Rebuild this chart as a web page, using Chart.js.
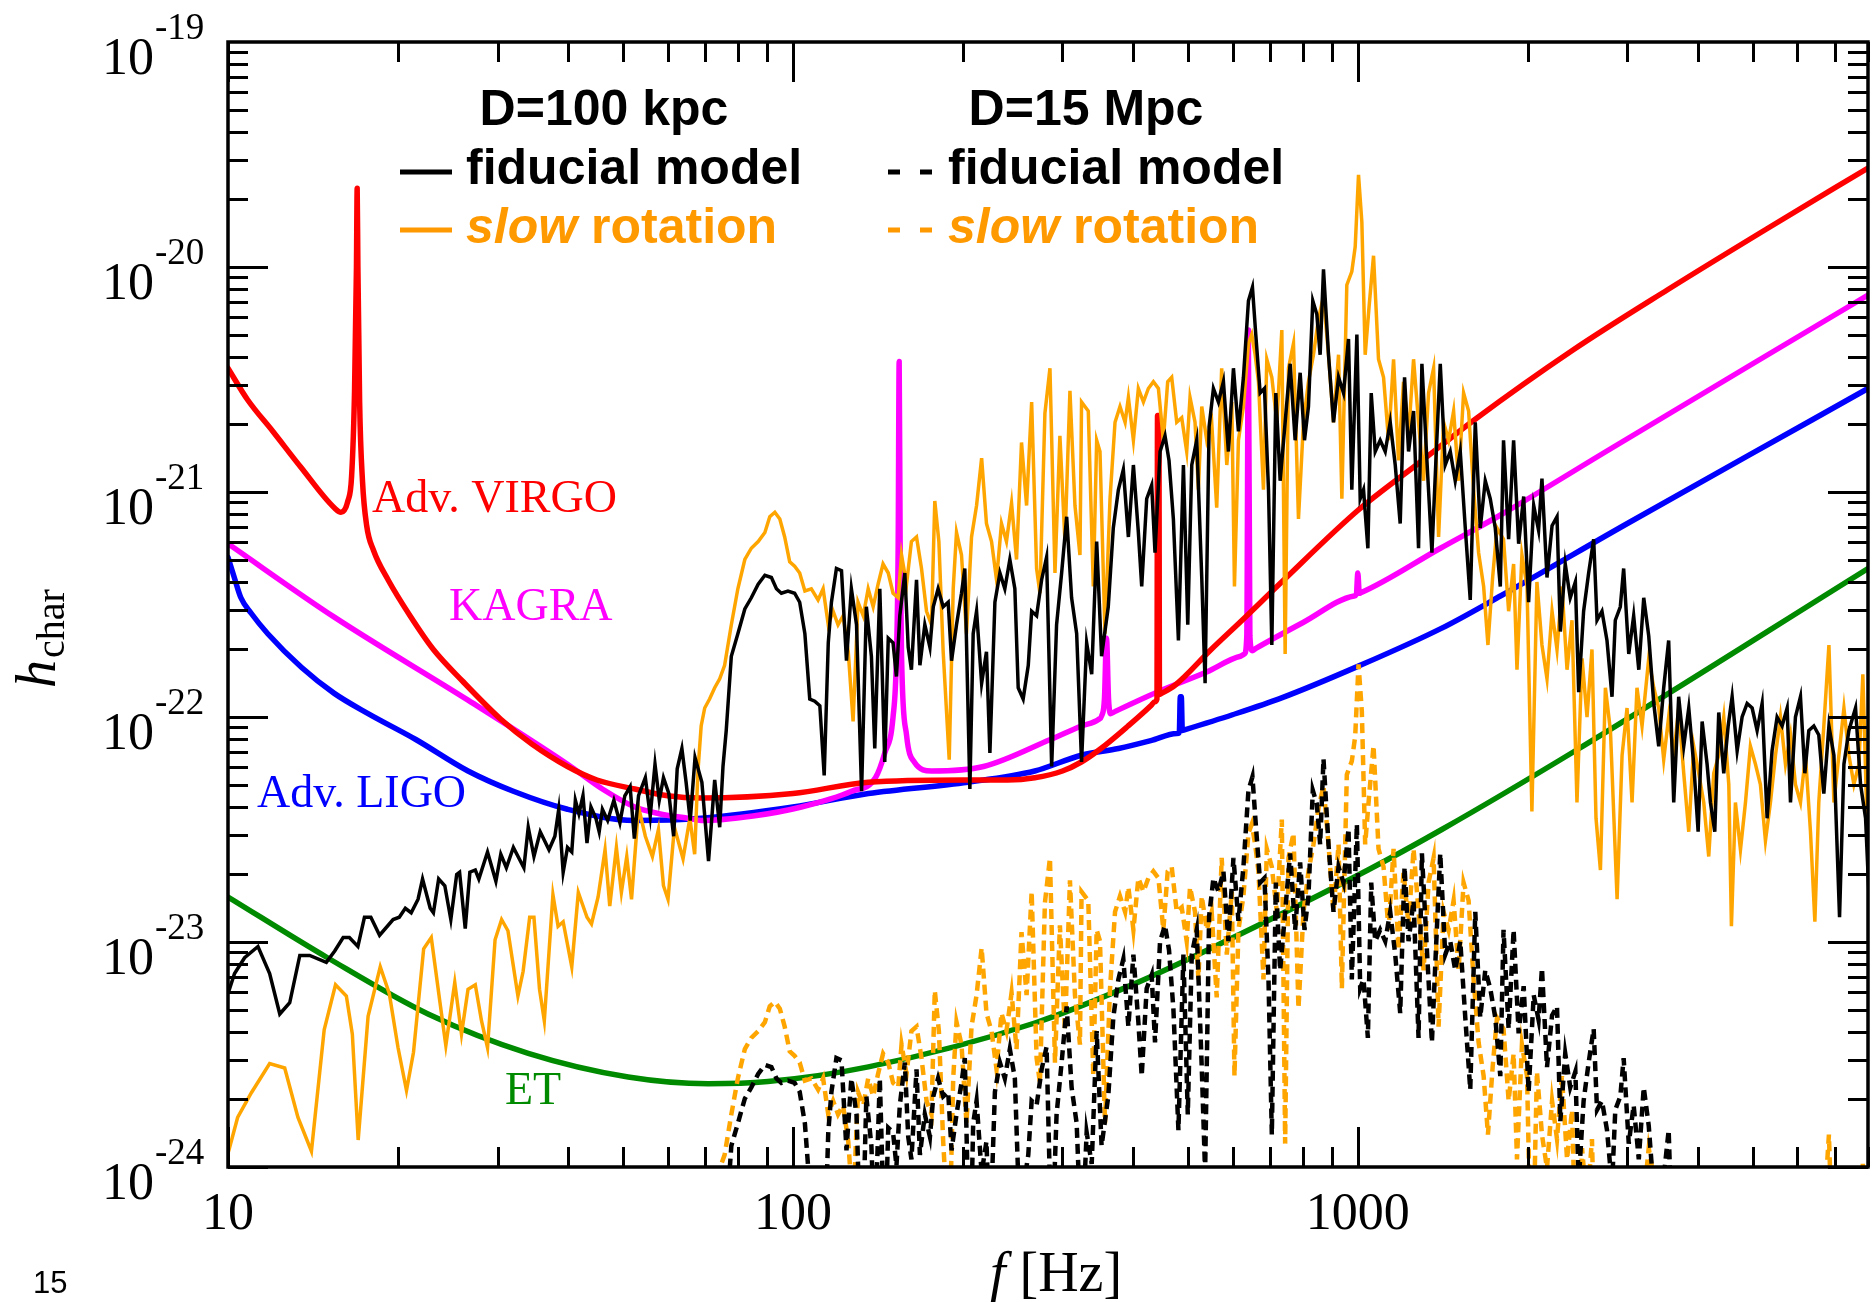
<!DOCTYPE html>
<html>
<head>
<meta charset="utf-8">
<title>h_char spectra</title>
<script src="https://cdn.jsdelivr.net/npm/chart.js@4.4.0/dist/chart.umd.min.js"></script>
<style>
    html, body { margin: 0; padding: 0; background: #fff; }
    #wrap { width: 1874px; height: 1302px; }
</style>
</head>
<body>
<div id="wrap"><canvas id="hcharChart" width="1874" height="1302"></canvas></div>
<script>
// pairs of [frequency in Hz, log10(h_char)]

// D = 100 kpc, fiducial model
const fiducial = [
    [10,-23.23],[10.27,-23.14],[10.7,-23.07],[11.3,-23.02],[11.85,-23.14],[12.35,-23.32],[12.86,-23.27],[13.4,-23.06],[13.95,-23.06],[14.93,-23.09],
    [15.45,-23.04],[15.99,-22.98],[16.4,-22.98],[16.98,-23.02],[17.44,-22.89],[17.9,-22.89],[18.55,-22.97],[19.6,-22.9],[20.1,-22.89],[20.6,-22.85],
    [21.1,-22.87],[21.7,-22.81],[22.1,-22.72],[22.8,-22.85],[23.1,-22.87],[23.6,-22.72],[24.2,-22.75],[24.8,-22.9],[25.4,-22.7],[25.7,-22.69],
    [26.3,-22.94],[26.8,-22.69],[27.4,-22.68],[27.8,-22.72],[28.8,-22.6],[29.8,-22.73],[30.4,-22.61],[31.1,-22.67],[32,-22.58],[33.4,-22.67],
    [34,-22.49],[34.8,-22.62],[35.7,-22.51],[37,-22.59],[37.9,-22.53],[38.5,-22.41],[39.2,-22.69],[39.9,-22.58],[40.6,-22.6],[41.2,-22.37],
    [41.8,-22.43],[42.5,-22.35],[43.2,-22.56],[43.9,-22.4],[44.8,-22.45],[45.4,-22.51],[46,-22.41],[47,-22.46],[48.2,-22.37],[49.4,-22.47],
    [50.4,-22.35],[51.5,-22.31],[52.4,-22.54],[53.3,-22.35],[54.8,-22.27],[55.9,-22.44],[57,-22.21],[58,-22.37],[59,-22.27],[60.3,-22.34],
    [61.5,-22.53],[62.4,-22.23],[63.6,-22.14],[64.7,-22.29],[65.8,-22.46],[67.1,-22.18],[69,-22.29],[70.9,-22.64],[72.7,-22.28],[74.2,-22.49],
    [75.2,-22.22],[76.2,-22.06],[77.8,-21.73],[79.9,-21.63],[82.2,-21.52],[84.4,-21.47],[86.8,-21.41],[89.2,-21.37],[91.6,-21.38],[93.5,-21.43],
    [95.4,-21.45],[98,-21.44],[100.7,-21.45],[102.8,-21.49],[105,-21.63],[107.1,-21.92],[109.3,-21.93],[111.6,-21.95],[113.6,-22.26],[115.5,-21.67],
    [117,-21.49],[119.4,-21.34],[121.9,-21.35],[124.4,-21.75],[126.9,-21.43],[129.6,-21.59],[132.3,-22.33],[134.9,-21.51],[137.7,-21.73],[139.6,-22.14],
    [142.5,-21.43],[145.4,-22.2],[147.5,-21.65],[150.4,-21.67],[152.5,-21.82],[154.6,-21.55],[157.8,-21.36],[160,-21.69],[162.1,-21.79],[165.5,-21.39],
    [167.8,-21.77],[171.2,-21.59],[174.8,-21.69],[177.2,-21.51],[180.7,-21.43],[184.5,-21.51],[188.3,-21.49],[190.9,-21.75],[194.8,-21.59],[198.8,-21.45],
    [201.5,-21.34],[205.7,-22.32],[208.5,-21.63],[211.4,-21.53],[215.8,-21.85],[220.1,-21.71],[223.2,-22.16],[227.8,-21.49],[232.5,-21.36],[237.2,-21.43],
    [242.1,-21.3],[247.1,-21.43],[250.5,-21.87],[255.6,-21.92],[261,-21.77],[264.6,-21.53],[270,-21.55],[275.6,-21.39],[281.2,-21.29],[287.1,-22.22],
    [292.9,-21.59],[299,-21.36],[305.2,-21.11],[311.4,-21.47],[317.9,-21.63],[324.3,-22.2],[331.1,-21.67],[338,-21.81],[344.9,-21.22],[351.9,-21.73],
    [361.6,-21.51],[369.1,-21.16],[376.8,-20.99],[384.5,-20.9],[392.5,-21.2],[400.6,-20.88],[408.8,-21.18],[414.4,-21.42],[422.9,-21.03],[431.6,-20.97],
    [437.5,-21.27],[446.6,-20.82],[455.7,-20.75],[463.2,-20.86],[471.5,-21.12],[481.3,-21.66],[491.2,-20.88],[500,-21.59],[508.2,-20.88],[518.6,-20.77],
    [529.3,-21.38],[536.6,-21.85],[545.4,-20.71],[555.1,-20.54],[566.5,-20.6],[578.2,-20.51],[590.1,-20.82],[602.3,-20.45],[614.7,-20.73],[627.3,-20.49],
    [640.3,-20.15],[650.8,-20.09],[659.7,-20.3],[671.5,-20.56],[683.5,-20.54],[694.8,-20.99],[704.3,-21.68],[715.9,-20.56],[728.6,-20.95],[743.6,-20.69],
    [758.9,-20.43],[774.5,-20.77],[790.5,-20.47],[804.6,-20.77],[817.7,-20.62],[832.3,-20.15],[846.1,-20.21],[857.6,-20.39],[869.4,-20.01],[887.3,-20.39],
    [905.6,-20.69],[924.4,-20.49],[943.3,-20.56],[962.7,-20.32],[975.8,-20.99],[996.1,-20.3],[1009.7,-21.03],[1023.5,-20.99],[1041.8,-21.25],[1056.1,-20.56],
    [1073.4,-20.82],[1095.5,-20.77],[1118.1,-20.82],[1141.1,-20.69],[1164.7,-20.88],[1188.5,-21.14],[1209.8,-20.49],[1229.7,-20.82],[1255.1,-20.64],[1280.8,-21.25],
    [1298.4,-20.43],[1325.3,-20.86],[1352.5,-21.27],[1374.7,-20.86],[1399.3,-20.43],[1428,-20.88],[1457.5,-20.82],[1487.4,-20.95],[1518.2,-20.82],[1549.6,-21.16],
    [1581.3,-21.48],[1614,-20.69],[1647,-21.16],[1681.1,-20.95],[1715.5,-21.03],[1751,-21.16],[1787.3,-21.42],[1811,-20.77],[1849,-21.21],[1887,-20.77],
    [1926,-21.23],[1966,-21.02],[2006,-21.49],[2048,-21.06],[2089,-21.17],[2118,-20.94],[2162,-21.38],[2207,-21.15],[2252,-21.11],[2283,-21.62],
    [2329,-21.32],[2377,-21.47],[2427,-21.4],[2460,-21.89],[2510,-21.53],[2562,-21.36],[2615,-21.21],[2651,-21.57],[2705,-21.53],[2761,-21.66],
    [2818,-21.91],[2856,-21.57],[2915,-21.51],[2955,-21.34],[3017,-21.72],[3078,-21.55],[3143,-21.79],[3207,-21.47],[3273,-21.64],[3341,-21.94],
    [3409,-22.13],[3479,-21.87],[3550,-21.66],[3624,-22.38],[3698,-21.91],[3775,-22.13],[3853,-21.96],[3932,-22.21],[4003,-22.51],[4069,-22.02],
    [4152,-22.21],[4209,-22.38],[4284,-22.51],[4354,-21.98],[4444,-22.25],[4524,-22.04],[4598,-21.91],[4693,-22.15],[4789,-22],[4888,-21.94],
    [4989,-21.96],[5091,-22.06],[5196,-21.94],[5303,-22.45],[5411,-22.15],[5523,-22],[5637,-22.04],[5754,-21.96],[5833,-22.38],[5952,-22],
    [6075,-21.91],[6184,-22.25],[6285,-22.06],[6415,-22.04],[6546,-22.08],[6682,-22.34],[6822,-22.04],[6962,-22.17],[7124,-22.89],[7252,-22.21],
    [7401,-22.06],[7604,-21.96],[7761,-22.3],[7921,-22.45],[8031,-22.79]
];

// D = 100 kpc, slow rotation
const slowRotation = [
    [10,-23.94],[10.4,-23.78],[11,-23.67],[11.85,-23.54],[12.6,-23.56],[13.3,-23.78],[14.05,-23.93],[14.8,-23.39],[15.5,-23.19],[16.2,-23.24],
    [16.6,-23.41],[17,-23.88],[17.7,-23.33],[18.6,-23.11],[19.3,-23.23],[20,-23.47],[20.7,-23.66],[21.3,-23.49],[22.2,-23.03],[22.9,-22.98],
    [23.7,-23.26],[24.3,-23.46],[25.2,-23.18],[25.9,-23.41],[26.6,-23.21],[27.4,-23.19],[28.1,-23.35],[28.8,-23.47],[29.7,-22.99],[30.5,-22.9],
    [31.3,-22.95],[32.6,-23.24],[33.3,-23.13],[34.2,-22.89],[34.8,-22.89],[35.6,-23.21],[36.3,-23.35],[37.6,-22.79],[38.4,-22.93],[39.2,-22.91],
    [40.6,-23.11],[41.7,-22.78],[43.2,-22.89],[44,-22.92],[45.2,-22.8],[46.5,-22.59],[47.4,-22.84],[48.7,-22.58],[49.7,-22.78],[50.8,-22.62],
    [51.8,-22.81],[53.3,-22.4],[54.8,-22.53],[56.4,-22.62],[57.8,-22.5],[59,-22.75],[60.1,-22.81],[61.7,-22.49],[63.9,-22.63],[65.7,-22.45],
    [67,-22.61],[67.9,-22.24],[68.8,-22.04],[69.8,-21.96],[71.2,-21.92],[72.7,-21.87],[74.2,-21.83],[75.7,-21.77],[77.8,-21.59],[79.9,-21.43],
    [82.2,-21.3],[84.4,-21.25],[86.8,-21.22],[89.2,-21.18],[91,-21.11],[92.9,-21.09],[94.8,-21.12],[96.7,-21.2],[98.7,-21.31],[100.7,-21.33],
    [102.8,-21.36],[105,-21.44],[107.8,-21.43],[110.8,-21.48],[113.1,-21.43],[115.5,-21.59],[117.8,-21.53],[120.2,-21.59],[122.7,-21.55],[125.3,-21.71],
    [127.8,-22.02],[130.4,-21.49],[133.2,-21.55],[135.9,-21.43],[138.7,-21.51],[141.5,-21.41],[144.4,-21.32],[147.5,-21.36],[150.4,-21.45],[153.6,-21.47],
    [155.7,-21.28],[158.9,-21.41],[162.1,-21.22],[165.5,-21.2],[168.9,-21.34],[172.4,-21.53],[175.9,-21.59],[178.3,-21.04],[181.3,-21.22],[184.5,-21.71],
    [189.1,-22.19],[192.2,-21.43],[194.8,-21.18],[198.8,-21.28],[202.9,-21.63],[207.1,-21.2],[211.4,-21.06],[215.8,-20.85],[220.1,-21.14],[224.7,-21.22],
    [229.3,-21.39],[234,-21.14],[238.8,-21.22],[243.8,-21.05],[248.8,-21.3],[253.9,-20.78],[259.2,-21.06],[264.6,-20.6],[270,-21.34],[273.7,-21.45],
    [279.3,-20.65],[285.1,-20.45],[291,-21.36],[296.9,-20.75],[303.1,-21.22],[309.3,-20.55],[315.7,-21.06],[322.2,-21.28],[324.3,-20.6],[333.3,-20.64],
    [340.2,-21.42],[344.9,-20.77],[349.6,-20.82],[356.8,-21.63],[364.2,-21.03],[371.7,-20.69],[379.3,-20.62],[387.3,-20.69],[392.5,-20.58],[400.6,-20.77],
    [408.8,-20.54],[417.3,-20.6],[425.8,-20.54],[434.6,-20.51],[443.6,-20.54],[452.6,-20.77],[460.7,-20.51],[468.3,-20.49],[478,-20.69],[487.8,-20.67],
    [497.8,-20.82],[504.6,-20.58],[515,-20.69],[522.1,-20.99],[529.3,-20.62],[540.2,-20.77],[551.2,-20.69],[562.6,-21.07],[574.1,-20.45],[586.2,-20.88],
    [598.3,-20.6],[604.8,-21.42],[614.7,-20.77],[627.3,-20.62],[640.3,-20.34],[649,-20.3],[658,-20.39],[667,-20.51],[680.7,-20.99],[690.1,-20.41],
    [704.3,-20.49],[718.8,-20.69],[733.6,-20.28],[743.6,-21.72],[753.8,-20.45],[769.3,-20.34],[785.1,-21.12],[801.3,-20.69],[817.7,-20.51],[834.6,-20.39],
    [851.8,-20.23],[869.4,-20.13],[887.3,-20.39],[905.6,-20.69],[924.4,-20.39],[937,-21.03],[956.1,-20.08],[975.8,-20.02],[989.3,-19.91],[1002.8,-19.59],
    [1016.5,-19.8],[1030.4,-20.39],[1047.4,-20.17],[1066.1,-19.95],[1088,-20.41],[1110.5,-20.49],[1133.4,-20.77],[1156.8,-20.41],[1180.3,-20.86],[1204.7,-20.51],
    [1229.7,-20.75],[1255,-20.41],[1280.8,-20.69],[1307.4,-20.95],[1334.2,-20.56],[1361.8,-20.45],[1389.8,-21.2],[1418.5,-20.69],[1447.9,-20.77],[1477.5,-20.64],
    [1508,-20.95],[1538.9,-20.56],[1570.7,-20.64],[1602.9,-20.99],[1636,-21.27],[1670,-21.42],[1699.5,-21.68],[1732.3,-21.38],[1763.3,-21.16],[1811,-21.21],
    [1849,-21.53],[1887,-21.32],[1913,-21.79],[1952,-21.28],[1993,-21.42],[2033,-22.42],[2075,-21.4],[2118,-21.68],[2162,-21.83],[2207,-21.53],
    [2252,-21.7],[2298,-21.42],[2346,-21.79],[2394,-21.57],[2443,-22.38],[2494,-21.74],[2545,-22],[2597,-21.7],[2640,-22.45],[2688,-22.68],
    [2743,-21.87],[2800,-22.06],[2877,-22.81],[2936,-22.17],[2996,-21.96],[3058,-22.38],[3120,-21.87],[3185,-22.04],[3273,-21.74],[3341,-21.87],
    [3409,-21.96],[3479,-22.19],[3550,-22],[3624,-22.17],[3698,-21.96],[3775,-22.25],[3853,-22.51],[3932,-22.13],[4013,-22.25],[4096,-22.38],
    [4180,-22.62],[4266,-22.25],[4354,-22.17],[4444,-22],[4536,-22.3],[4585,-22.93],[4660,-22.38],[4757,-22.59],[4855,-22.38],[4954,-22.13],
    [5057,-22.21],[5160,-22.3],[5267,-22.55],[5375,-22.38],[5487,-22.17],[5599,-22],[5715,-22.21],[5833,-22.08],[5952,-22.3],[6075,-22.38],
    [6200,-22.17],[6328,-22.51],[6442,-22.91],[6546,-22.38],[6682,-22.04],[6822,-21.68],[6962,-22.38],[7105,-22.17],[7252,-21.96],[7401,-22.17],
    [7553,-22.3],[7709,-22.21],[7834,-21.81],[7975,-22.51]
];

// the D=15 Mpc curves are the same spectra seen from further away: h scales as 1/D
const distanceScale = 100 / 15000;

// detector sensitivity curves
const advVirgo = [
    [10,-20.45],[10.83,-20.59],[12,-20.73],[13.46,-20.89],[15.42,-21.07],[15.85,-21.09],[16.3,-21.04],[16.55,-20.93],[16.75,-20.55],[16.88,-20],
    [16.93,-19.65],[16.98,-20],[17.1,-20.6],[17.3,-20.95],[17.6,-21.15],[18.1,-21.26],[19.2,-21.39],[21,-21.55],[23.1,-21.7],[26,-21.84],
    [30.4,-22.01],[34.5,-22.12],[39.9,-22.22],[45,-22.28],[52.5,-22.32],[60,-22.35],[68.9,-22.36],[100,-22.34],[136,-22.29],[200,-22.28],
    [240,-22.28],[268,-22.27],[300,-22.24],[324,-22.2],[351,-22.14],[392,-22.04],[430,-21.95],[437,-21.932],[441,-21.92],[442,-20.66],
    [444.5,-20.66],[445.5,-21.9],[447,-21.898],[474,-21.86],[550,-21.7],[630,-21.56],[733,-21.4],[1002,-21.08],[1300,-20.86],[1607,-20.68],
    [2400,-20.37],[3540,-20.1],[5300,-19.83],[8000,-19.56]
];
const kagra = [
    [10,-21.23],[15.4,-21.555],[26.6,-21.925],[39.9,-22.21],[46,-22.32],[52.5,-22.4],[58,-22.43],[65.2,-22.45],[68.8,-22.46],[85,-22.44],
    [103.5,-22.4],[127,-22.33],[140,-22.27],[145.4,-22.16],[150.4,-22],[152.5,-21.73],[153.6,-21.22],[154.2,-20.42],[154.8,-21.22],[155.7,-21.73],
    [158.9,-22.08],[164,-22.2],[176,-22.24],[217.5,-22.22],[285.6,-22.1],[324,-22.04],[348,-22.01],[352,-21.995],[356,-21.92],[359,-21.65],
    [362,-21.92],[365,-21.985],[372,-21.975],[450,-21.88],[540,-21.8],[620,-21.73],[630,-21.72],[636,-21.64],[640,-20.28],[644,-21.64],
    [650,-21.705],[660,-21.695],[800,-21.58],[985,-21.462],[994,-21.455],[1000,-21.36],[1006,-21.45],[1012,-21.448],[1400,-21.25],[1795,-21.1],
    [2793,-20.81],[5000,-20.43],[8000,-20.125]
];
const advLigo = [
    [10,-21.29],[10.26,-21.38],[10.54,-21.47],[11,-21.54],[11.76,-21.63],[13.5,-21.78],[15.42,-21.895],[17.7,-21.985],[21.5,-22.1],[26.6,-22.24],
    [32,-22.33],[39.9,-22.41],[52.5,-22.46],[68.8,-22.45],[100,-22.4],[136,-22.34],[204,-22.29],[268,-22.24],[324,-22.17],[377,-22.14],
    [430,-22.105],[478,-22.073],[483,-22.07],[485,-21.91],[487,-21.91],[489,-22.06],[492,-22.058],[600,-21.99],[733,-21.915],[1000,-21.775],
    [1408,-21.605],[1795,-21.46],[3000,-21.14],[6364,-20.68],[8000,-20.54]
];
const einsteinTelescope = [
    [10,-22.8],[15,-23.07],[22.6,-23.32],[34,-23.495],[51.1,-23.6],[70.8,-23.63],[90.3,-23.62],[136,-23.555],[268,-23.36],[403,-23.185],
    [573,-23.006],[1042,-22.68],[1408,-22.5],[2427,-22.15],[8000,-21.34]
];

// axes
const xTickValues = [10, 100, 1000];
const xTickLabels = ['10', '100', '1000'];
const yTickValues = [1e-19, 1e-20, 1e-21, 1e-22, 1e-23, 1e-24];
const yTickExponents = ['-19', '-20', '-21', '-22', '-23', '-24'];

const SERIF = '"Liberation Serif", "Times New Roman", serif';
const SANS = '"Liberation Sans", Arial, Helvetica, sans-serif';

function toPoints(pairs, factor) {
    const k = factor || 1;
    return pairs.map(p => ({ x: p[0], y: Math.pow(10, p[1]) * k }));
}

function lineSet(pairs, color, width, order, extra) {
    return Object.assign({
        data: toPoints(pairs),
        borderColor: color,
        borderWidth: width,
        pointRadius: 0,
        tension: 0,
        fill: false,
        clip: 0,
        order: order
    }, extra || {});
}

// ticks, frame and all the text are painted by hand, IDL style
const idlAxes = {
    id: 'idlAxes',
    afterDatasetsDraw(chart) {
        const { ctx, chartArea: a } = chart;
        const x = chart.scales.x;
        const y = chart.scales.y;

        ctx.save();
        ctx.strokeStyle = '#000';
        ctx.lineWidth = 3;
        ctx.beginPath();

        // x ticks, bottom and top
        for (let d = 10; d <= 1000; d *= 10) {
            for (let k = 1; k <= 9; k++) {
                const v = k * d;
                if (v > 8000) break;
                const px = Math.round(x.getPixelForValue(v)) + 0.5;
                const len = k === 1 ? 40 : 20;
                ctx.moveTo(px, a.bottom); ctx.lineTo(px, a.bottom - len);
                ctx.moveTo(px, a.top); ctx.lineTo(px, a.top + len);
            }
        }
        // y ticks, left and right
        for (let e = -24; e <= -20; e++) {
            for (let k = 1; k <= 9; k++) {
                const v = k * Math.pow(10, e);
                const py = Math.round(y.getPixelForValue(v)) + 0.5;
                const len = k === 1 ? 40 : 20;
                ctx.moveTo(a.left, py); ctx.lineTo(a.left + len, py);
                ctx.moveTo(a.right, py); ctx.lineTo(a.right - len, py);
            }
        }
        ctx.stroke();

        ctx.lineWidth = 3.5;
        ctx.strokeRect(a.left, a.top, a.right - a.left, a.bottom - a.top);
        ctx.restore();
    },
    afterDraw(chart) {
        const { ctx } = chart;
        const x = chart.scales.x;
        const y = chart.scales.y;
        ctx.save();
        ctx.fillStyle = '#000';
        ctx.textBaseline = 'alphabetic';

        // x tick labels
        ctx.font = '52px ' + SERIF;
        ctx.textAlign = 'center';
        xTickValues.forEach((v, i) => {
            ctx.fillText(xTickLabels[i], x.getPixelForValue(v), 1229);
        });

        // y tick labels 10^-n
        yTickValues.forEach((v, i) => {
            const py = y.getPixelForValue(v);
            ctx.font = '52px ' + SERIF;
            ctx.textAlign = 'right';
            ctx.fillText('10', 154, py + 32);
            ctx.font = '37px ' + SERIF;
            ctx.textAlign = 'left';
            ctx.fillText(yTickExponents[i], 155, py - 3);
        });

        // x title
        ctx.textAlign = 'left';
        ctx.font = 'italic 56px ' + SERIF;
        const fW = ctx.measureText('f').width;
        ctx.font = '56px ' + SERIF;
        const restW = ctx.measureText(' [Hz]').width;
        const x0 = 1056 - (fW + restW) / 2;
        ctx.font = 'italic 56px ' + SERIF;
        ctx.fillText('f', x0, 1291);
        ctx.font = '56px ' + SERIF;
        ctx.fillText(' [Hz]', x0 + fW, 1291);

        // y title, rotated
        ctx.save();
        ctx.translate(55, 688);
        ctx.rotate(-Math.PI / 2);
        ctx.font = 'italic 56px ' + SERIF;
        ctx.fillText('h', 0, 0);
        const hW = ctx.measureText('h').width;
        ctx.font = '40px ' + SERIF;
        ctx.fillText('char', hW + 2, 9);
        ctx.restore();

        // detector names
        ctx.font = '46px ' + SERIF;
        ctx.fillStyle = '#ff0000'; ctx.fillText('Adv. VIRGO', 372, 512);
        ctx.fillStyle = '#ff00ff'; ctx.fillText('KAGRA', 449, 620);
        ctx.fillStyle = '#0000ff'; ctx.fillText('Adv. LIGO', 257, 807);
        ctx.fillStyle = '#008a00'; ctx.fillText('ET', 505, 1104);

        // legend block
        ctx.fillStyle = '#000';
        ctx.font = 'bold 50px ' + SANS;
        ctx.textAlign = 'center';
        ctx.fillText('D=100 kpc', 604, 125);
        ctx.fillText('D=15 Mpc', 1086, 125);
        ctx.textAlign = 'left';
        ctx.fillText('fiducial model', 466, 184);
        ctx.fillText('fiducial model', 948, 184);

        [466, 948].forEach(lx => {
            ctx.fillStyle = '#ff9900';
            ctx.font = 'italic bold 50px ' + SANS;
            ctx.fillText('slow', lx, 243);
            const sW = ctx.measureText('slow').width;
            ctx.font = 'bold 50px ' + SANS;
            ctx.fillText(' rotation', lx + sW, 243);
        });

        ctx.lineWidth = 5;
        ctx.strokeStyle = '#000';
        ctx.beginPath();
        ctx.moveTo(400, 172); ctx.lineTo(452, 172);
        ctx.moveTo(888, 172); ctx.lineTo(900, 172);
        ctx.moveTo(920, 172); ctx.lineTo(932, 172);
        ctx.stroke();
        ctx.strokeStyle = '#ff9900';
        ctx.beginPath();
        ctx.moveTo(400, 230); ctx.lineTo(452, 230);
        ctx.moveTo(888, 230); ctx.lineTo(900, 230);
        ctx.moveTo(920, 230); ctx.lineTo(932, 230);
        ctx.stroke();

        // page number
        ctx.fillStyle = '#000';
        ctx.font = '31px ' + SANS;
        ctx.fillText('15', 33, 1293);
        ctx.restore();
    }
};

// smooth detector curves: monotone cubic keeps the narrow resonances from overshooting
const detectorStyle = { cubicInterpolationMode: 'monotone', borderJoinStyle: 'round', borderCapStyle: 'round' };

const hcharChart = new Chart(document.getElementById('hcharChart').getContext('2d'), {
    type: 'line',
    data: {
        datasets: [
            lineSet(fiducial, '#000000', 3.5, 0),
            lineSet(slowRotation, '#ffa500', 3.5, 1),
            Object.assign(lineSet(fiducial, '#000000', 4.5, 2, { borderDash: [10, 6] }), { data: toPoints(fiducial, distanceScale) }),
            Object.assign(lineSet(slowRotation, '#ffa500', 4.5, 3, { borderDash: [10, 6] }), { data: toPoints(slowRotation, distanceScale) }),
            lineSet(advVirgo, '#ff0000', 5.5, 4, detectorStyle),
            lineSet(kagra, '#ff00ff', 5.5, 5, detectorStyle),
            lineSet(advLigo, '#0000ff', 5.5, 6, detectorStyle),
            lineSet(einsteinTelescope, '#008a00', 5.5, 7, detectorStyle)
        ]
    },
    options: {
        responsive: false,
        animation: false,
        devicePixelRatio: 1,
        events: [],
        layout: { padding: { left: 228, right: 6, top: 42, bottom: 135 } },
        plugins: {
            legend: { display: false },
            tooltip: { enabled: false }
        },
        scales: {
            x: { type: 'logarithmic', min: 10, max: 8000, display: false },
            y: { type: 'logarithmic', min: 1e-24, max: 1e-19, display: false }
        }
    },
    plugins: [idlAxes]
});
</script>
</body>
</html>
